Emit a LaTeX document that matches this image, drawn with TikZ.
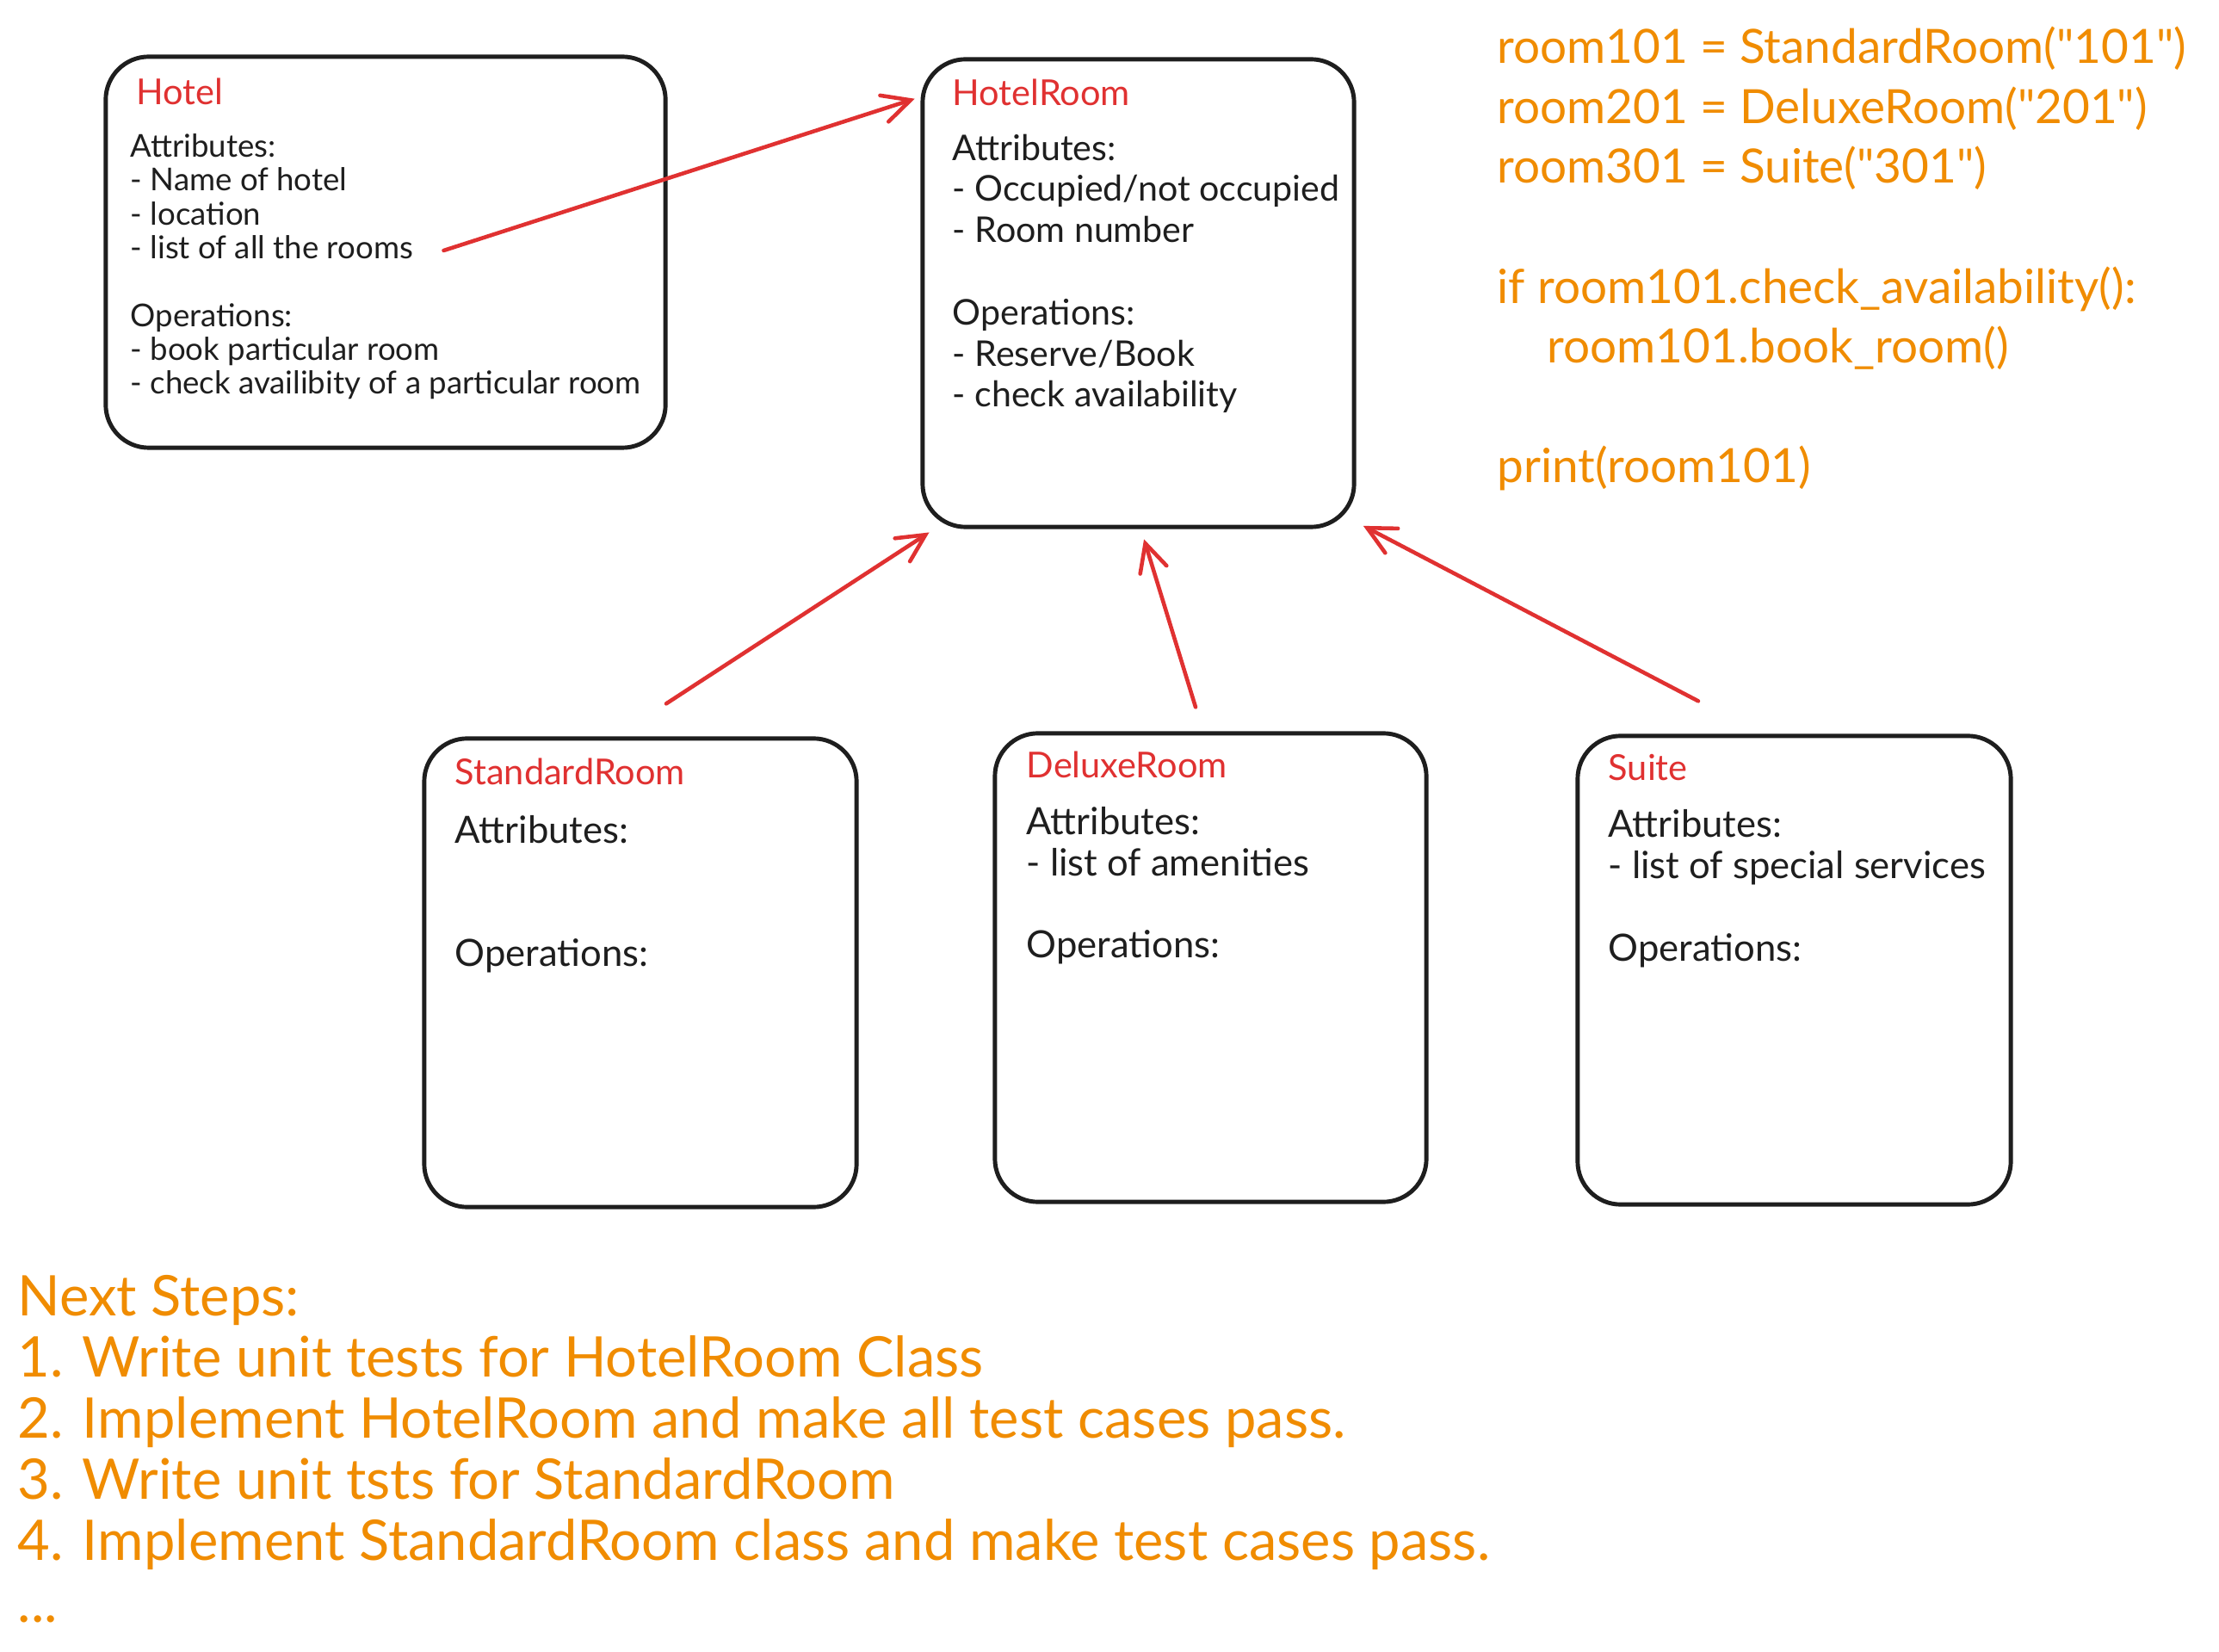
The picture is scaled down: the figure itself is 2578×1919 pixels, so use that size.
\documentclass[tikz,border=0pt]{standalone}
\usepackage{fontspec}
\setmainfont{Lato}
\newfontfamily\codefont{Lato}
\usetikzlibrary{arrows.meta}

\definecolor{inkred}{RGB}{224,49,49}
\definecolor{inkorange}{RGB}{240,140,0}
\definecolor{ink}{RGB}{30,30,30}

\tikzset{
  classbox/.style={draw=ink, line width=1.4pt, rounded corners=0.5cm, fill=white},
  classname/.style={anchor=base west, inner sep=0, text=inkred, font=\fontsize{11.8}{13.6}\selectfont},
  smalltext/.style={anchor=base west, inner sep=0, align=left, text=ink, font=\fontsize{10.4}{11.2}\selectfont},
  classtext/.style={anchor=base west, inner sep=0, align=left, text=ink, font=\fontsize{12.4}{13.6}\selectfont},
  codetext/.style={anchor=base west, inner sep=0, align=left, text=inkorange, font=\codefont\fontsize{15.6}{19.8}\selectfont},
  notetext/.style={anchor=base west, inner sep=0, align=left, text=inkorange, font=\fontsize{18.5}{20.2}\selectfont},
  link/.style={draw=inkred, line width=1.3pt, line cap=round, shorten >=2pt,
    -{Straight Barb[length=0.32cm,width=0.32cm,line cap=round]}}
}

\begin{document}
\begin{tikzpicture}[x=0.01cm, y=-0.01cm]
    \useasboundingbox[fill=white] (0,0) rectangle (2578,1919);

    \node[classbox, minimum width=6.5cm, minimum height=4.54cm] (hotel) at (448,293) {};
    \node[classbox, minimum width=5.01cm, minimum height=5.43cm] (hotelroom) at (1322.5,340.5) {};
    \node[classbox, minimum width=5.02cm, minimum height=5.44cm] (standard) at (744,1130) {};
    \node[classbox, minimum width=5.01cm, minimum height=5.44cm] (deluxe) at (1406.5,1124) {};
    \node[classbox, minimum width=5.03cm, minimum height=5.44cm] (suite) at (2084.5,1127) {};

    \node[classname] (hoteltitle) at (158,122) {Hotel};
    \node[smalltext] (hotelbody) at (151,458) {Attributes:\\- Name of hotel\\- location\\- list of all the rooms\\[11.2pt]
      Operations:\\- book particular room\\- check availibity of a particular room};

    \node[classname] (hotelroomtitle) at (1106,123) {HotelRoom};
    \node[classtext, font=\fontsize{11.7}{13.6}\selectfont] (hotelroombody) at (1106,473) {Attributes:\\- Occupied/not occupied\\- Room number\\[13.6pt]
      Operations:\\- Reserve/Book\\- check availability};

    \node[classname] (standardtitle) at (528,912) {StandardRoom};
    \node[classtext] (standardbody) at (528,1123) {Attributes:\\[27.2pt]Operations:};

    \node[classname] (deluxetitle) at (1192,904) {DeluxeRoom};
    \node[classtext] (deluxebody) at (1192,1113) {Attributes:\\- list of amenities\\[13.6pt]Operations:};

    \node[classname] (suitetitle) at (1868,907) {Suite};
    \node[classtext] (suitebody) at (1868,1116) {Attributes:\\- list of special services\\[13.6pt]Operations:};

    \node[codetext] (code) at (1739,561) {room101 = StandardRoom("101")\\room201 = DeluxeRoom("201")\\room301 = Suite("301")\\[19.8pt]
      if room101.check\_availability():\\\hspace*{0.58cm}room101.book\_room()\\[19.8pt]print(room101)};

    \node[notetext] (nextsteps) at (20,1884) {Next Steps:\\1. Write unit tests for HotelRoom Class\\
      2. Implement HotelRoom and make all test cases pass.\\3. Write unit tsts for StandardRoom\\
      4. Implement StandardRoom class and make test cases pass.\\...};

    \coordinate (roomslist) at ([xshift=-2.6cm,yshift=0.02cm]hotel.east);
    \coordinate (standardtail) at ([xshift=0.3cm,yshift=0.38cm]standard.north);
    \coordinate (deluxetail) at ([xshift=-0.175cm,yshift=0.28cm]deluxe.north);
    \coordinate (suitetail) at ([xshift=-1.115cm,yshift=0.38cm]suite.north);

    \draw[link] (roomslist) -- (hotelroom.138.3);
    \draw[link] (standardtail) -- ([xshift=0.16cm]hotelroom.south west);
    \draw[link] (deluxetail) -- ([xshift=0.045cm,yshift=-0.05cm]hotelroom.south);
    \draw[link] (suitetail) -- ([xshift=0.02cm,yshift=0.07cm]hotelroom.south east);
\end{tikzpicture}
\end{document}
